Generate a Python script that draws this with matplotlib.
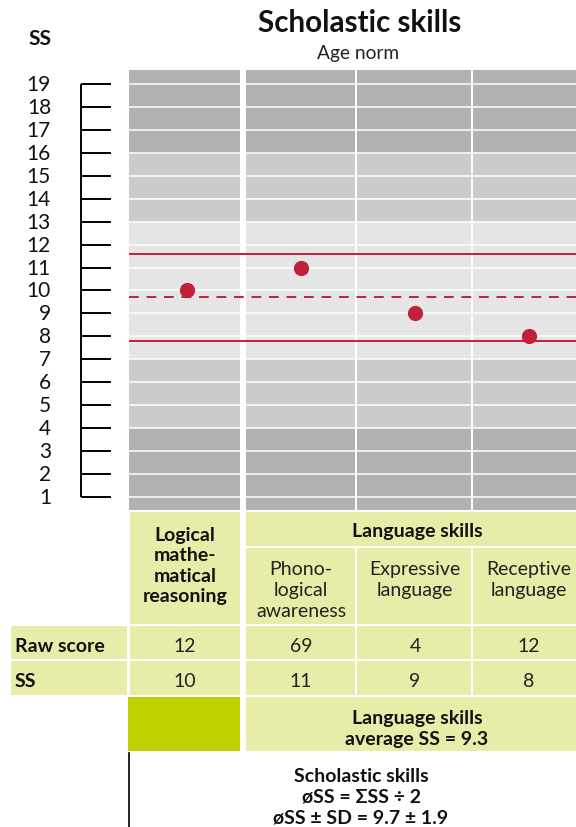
import matplotlib

matplotlib.use("Agg")
import matplotlib.pyplot as plt
from matplotlib.patches import Rectangle

# data
SUBTESTS = ["Logical\nmathe-\nmatical\nreasoning", "Phono-\nlogical\nawareness",
            "Expressive\nlanguage", "Receptive\nlanguage"]
RAW_SCORES = [12, 69, 4, 12]
SS_VALUES = [10, 11, 9, 8]
SS_TICKS = list(range(1, 20))
MEAN_SS = 9.7
SD_SS = 1.9
LANG_AVG_SS = 9.3

COLORS = {
    "dark": "#b1b1b1",
    "mid": "#cbcbcb",
    "light": "#e5e5e5",
    "red": "#c0213a",
    "cell": "#e7eda8",
    "block": "#bfd000",
    "ink": "#111111",
}

W, H = 576, 828
Y_MIN, Y_MAX = 0.43, 19.61
GRID_TOP, GRID_BOTTOM = 71, 511
COL_CENTERS = [185, 301, 415, 529]
DOT_X = [187, 301, 415, 529]
COLS = [(130, 240), (246, 355), (357, 471), (473, 592)]
FS = 14
LS = 1.26

plt.rcParams["font.family"] = ["Lato", "DejaVu Sans"]

fig = plt.figure(figsize=(W / 100, H / 100), dpi=100)

# background axes in pixel coordinates for the table part
bg = fig.add_axes([0, 0, 1, 1])
bg.set_xlim(0, W)
bg.set_ylim(H, 0)
bg.axis("off")

# chart axes: x in pixels, y in SS units
ax = fig.add_axes([129 / W, 1 - GRID_BOTTOM / H, (592 - 129) / W, (GRID_BOTTOM - GRID_TOP) / H])
ax.set_xlim(129, 592)
ax.set_ylim(Y_MIN, Y_MAX)
ax.axis("off")
ax.patch.set_alpha(0)

edges = [Y_MIN] + SS_TICKS + [Y_MAX]
for lo, hi in zip(edges[:-1], edges[1:]):
    mid = (lo + hi) / 2
    if mid < 4 or mid > 16:
        col = COLORS["dark"]
    elif mid < 7 or mid > 13:
        col = COLORS["mid"]
    else:
        col = COLORS["light"]
    ax.axhspan(lo, hi, color=col, lw=0)
for v in SS_TICKS:
    ax.axhline(v, color="white", lw=1.1)
ax.axvspan(240, 246, color="white", lw=0)
ax.axvline(356, color="white", lw=1.4)
ax.axvline(472, color="white", lw=1.4)

ax.axhline(MEAN_SS + SD_SS, color=COLORS["red"], lw=1.4)
ax.axhline(MEAN_SS - SD_SS, color=COLORS["red"], lw=1.4)
ax.axhline(MEAN_SS, color=COLORS["red"], lw=1.4, dashes=(5, 4))
ax.scatter(DOT_X, SS_VALUES, s=120, color=COLORS["red"], zorder=5, linewidths=0)

# tick scale on the left
tk = fig.add_axes([0, 1 - GRID_BOTTOM / H, 129 / W, (GRID_BOTTOM - GRID_TOP) / H])
tk.set_xlim(0, 129)
tk.set_ylim(Y_MIN, Y_MAX)
tk.axis("off")
tk.vlines(81, SS_TICKS[0], SS_TICKS[-1], color="black", lw=1.4)
tk.hlines(SS_TICKS, 81, 111, color="black", lw=1.4)
for v in SS_TICKS:
    tk.text(51, v, str(v), ha="right", va="center", fontsize=15, color=COLORS["ink"])

# titles
bg.text(360, 23, "Scholastic skills", ha="center", va="center", fontsize=21.3,
        fontweight="bold", color=COLORS["ink"])
bg.text(358, 53, "Age norm", ha="center", va="center", fontsize=13.8, color="#222222")
bg.text(40, 39, "SS", ha="center", va="center", fontsize=15, fontweight="bold",
        color=COLORS["ink"])


def cell(x0, x1, y0, y1, color=COLORS["cell"]):
    bg.add_patch(Rectangle((x0, y0), x1 - x0, y1 - y0, color=color, lw=0))


# header
cell(*COLS[0], 513, 625)
bg.text(COL_CENTERS[0], 566, SUBTESTS[0], ha="center", va="center", fontsize=FS,
        fontweight="bold", linespacing=LS, color=COLORS["ink"])
cell(246, 592, 513, 547)
bg.text(417, 532, "Language skills", ha="center", va="center", fontsize=FS,
        fontweight="bold", color=COLORS["ink"])
for i in range(1, 4):
    cell(*COLS[i], 549, 625)
    n = SUBTESTS[i].count("\n") + 1
    bg.text(COL_CENTERS[i], 569 + 10.8 * (n - 1), SUBTESTS[i], ha="center", va="center",
            fontsize=FS, linespacing=LS, color="#222222")

# score rows
for label, values, y0, y1 in [("Raw score", RAW_SCORES, 627, 660), ("SS", SS_VALUES, 662, 696)]:
    cell(11, 127, y0, y1)
    bg.text(15, (y0 + y1) / 2 + 3, label, ha="left", va="center", fontsize=FS,
            fontweight="bold", color=COLORS["ink"])
    for i, val in enumerate(values):
        cell(*COLS[i], y0, y1)
        bg.text(COL_CENTERS[i], (y0 + y1) / 2 + 3, str(val), ha="center", va="center",
                fontsize=FS, color="#222222")

# averages
cell(128, 240, 698, 752, COLORS["block"])
cell(246, 592, 698, 752)
bg.text(417, 729, f"Language skills\naverage SS = {LANG_AVG_SS}", ha="center", va="center",
        fontsize=FS, fontweight="bold", linespacing=LS, color=COLORS["ink"])

bg.plot([129, 129], [754, H], color="black", lw=1.2)
bg.text(361, 797, f"Scholastic skills\nøSS = ΣSS ÷ 2\nøSS ± SD = {MEAN_SS} ± {SD_SS}",
        ha="center", va="center", fontsize=FS, fontweight="bold", linespacing=LS,
        color=COLORS["ink"])

fig.savefig("out.png", dpi=100)
